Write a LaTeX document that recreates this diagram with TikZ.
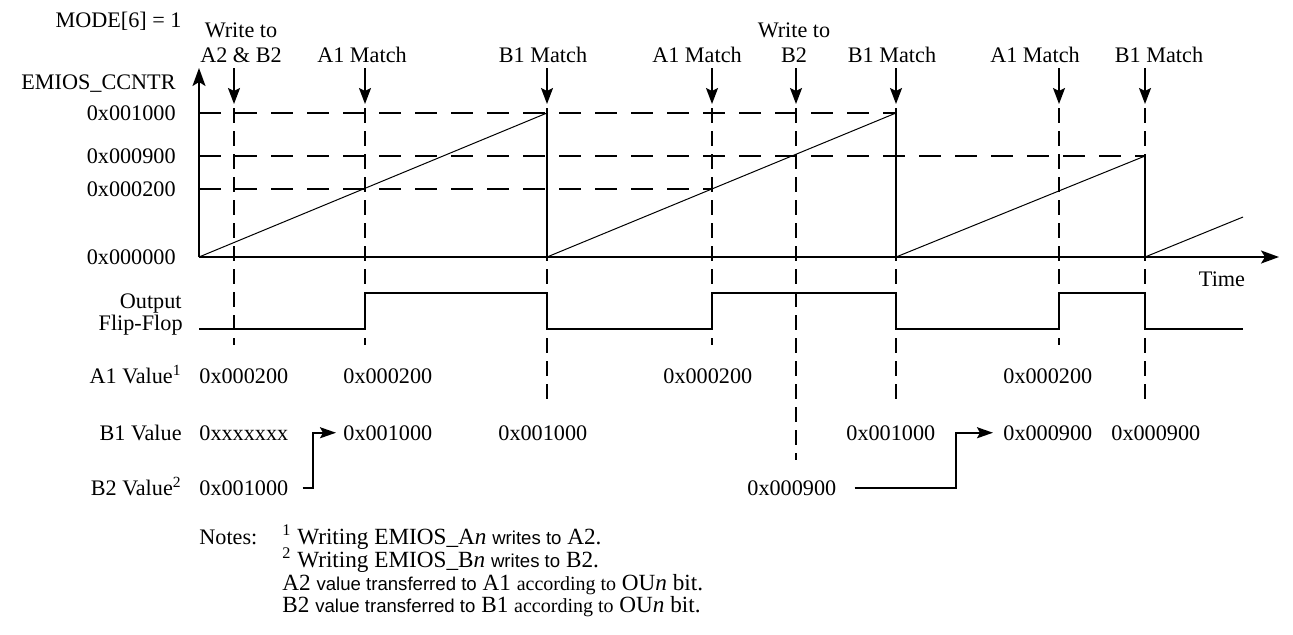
\documentclass[tikz,border=0pt]{standalone}
\usepackage{fontspec}
\setmainfont{Liberation Serif}
\setsansfont{Liberation Sans}
\usetikzlibrary{arrows.meta}
\newcommand{\hv}[1]{{\sffamily\fontsize{9.3}{11}\selectfont #1}}
\newcommand{\sm}[1]{{\fontsize{10}{11}\selectfont #1}}

\begin{document}
\begin{tikzpicture}[
  x=0.5pt, y=-0.5pt,
  font=\fontsize{11.1}{13}\selectfont,
  every node/.style={inner sep=0pt},
  axis/.style={line width=1pt, -{Stealth[length=9pt, width=6.5pt, inset=2pt]}},
  ramp/.style={line width=0.5pt},
  sig/.style={line width=1pt},
  lvl/.style={line width=0.9pt, dash pattern=on 11pt off 7pt},
  evt/.style={line width=0.9pt, dash pattern=on 7.5pt off 4pt},
  evarrow/.style={line width=0.9pt, -{Stealth[length=8pt, width=6pt, inset=1.5pt]}},
  xfer/.style={line width=1pt, -{Stealth[length=8pt, width=5.5pt, inset=1.5pt]}},
  lbl/.style={anchor=base east},
  val/.style={anchor=base west},
  note/.style={anchor=base west, font=\fontsize{11.6}{13}\selectfont,
               text height=8pt, text depth=2pt},
  evlbl/.style={anchor=base}
]
\useasboundingbox (0,0) rectangle (1293,634);

% axes
\coordinate (o) at (199,257);
\coordinate (ytop) at (199,68);
\coordinate (xend) at (1279,257);
\draw[axis] (o) -- (ytop);
\draw[axis] (o) -- (xend);
\node[evlbl] (time) at (1222,286) {Time};

\node[lbl] (mode) at (182,27) {MODE[6] = 1};
\node[lbl] (cntr) at (176,89) {EMIOS\_CCNTR};
\node[lbl] (v1000) at (176,120) {0x001000};
\node[lbl] (v900) at (176,163) {0x000900};
\node[lbl] (v200) at (176,196) {0x000200};
\node[lbl] (v0) at (176,264) {0x000000};

% event labels
\node[evlbl] (wa) at (241,37) {Write to};
\node[evlbl] (wb) at (241,62) {A2 \& B2};
\node[evlbl] (am1) at (362,62) {A1 Match};
\node[evlbl] (bm1) at (543,62) {B1 Match};
\node[evlbl] (am2) at (697,62) {A1 Match};
\node[evlbl] (wc) at (794,37) {Write to};
\node[evlbl] (wd) at (794,62) {B2};
\node[evlbl] (bm2) at (892,62) {B1 Match};
\node[evlbl] (am3) at (1035,62) {A1 Match};
\node[evlbl] (bm3) at (1159,62) {B1 Match};

% event arrows
\draw[evarrow] (234,68) -- (234,104);
\draw[evarrow] (365,68) -- (365,104);
\draw[evarrow] (547,68) -- (547,104);
\draw[evarrow] (712,68) -- (712,104);
\draw[evarrow] (796,68) -- (796,104);
\draw[evarrow] (896,68) -- (896,104);
\draw[evarrow] (1059,68) -- (1059,104);
\draw[evarrow] (1145,68) -- (1145,104);

% level lines
\draw[lvl] (199,113) -- (896,113);
\draw[lvl] (199,156) -- (1145,156);
\draw[lvl] (199,189) -- (712,189);

% event lines
\draw[evt] (234,108) -- (234,345);
\draw[evt] (365,108) -- (365,345);
\draw[evt] (547,108) -- (547,403);
\draw[evt] (712,108) -- (712,345);
\draw[evt] (796,108) -- (796,460);
\draw[evt] (896,108) -- (896,403);
\draw[evt] (1059,108) -- (1059,345);
\draw[evt] (1145,108) -- (1145,403);

% counter
\draw[ramp] (199,257) -- (547,113);
\draw[sig] (547,113) -- (547,257);
\draw[ramp] (547,257) -- (896,113);
\draw[sig] (896,113) -- (896,257);
\draw[ramp] (896,257) -- (1145,156);
\draw[sig] (1145,156) -- (1145,257);
\draw[ramp] (1145,257) -- (1243,217);

% output flip-flop
\node[lbl] (out) at (182,308) {Output};
\node[lbl] (ff) at (183,330) {Flip-Flop};
\draw[sig] (199,329) -- (365,329) -- (365,293) -- (547,293) -- (547,329)
  -- (712,329) -- (712,293) -- (896,293) -- (896,329) -- (1059,329)
  -- (1059,293) -- (1145,293) -- (1145,329) -- (1243,329);

% register values
\node[lbl] (a1) at (182,383) {A1 Value\textsuperscript{1}};
\node[lbl] (b1) at (182,440) {B1 Value};
\node[lbl] (b2) at (182,495) {B2 Value\textsuperscript{2}};

\node[val] (a1v1) at (199,383) {0x000200};
\node[val] (a1v2) at (343,383) {0x000200};
\node[val] (a1v3) at (663,383) {0x000200};
\node[val] (a1v4) at (1003,383) {0x000200};

\node[val] (b1v1) at (199,440) {0xxxxxxx};
\node[val] (b1v2) at (343,440) {0x001000};
\node[val] (b1v3) at (498,440) {0x001000};
\node[val] (b1v4) at (846,440) {0x001000};
\node[val] (b1v5) at (1003,440) {0x000900};
\node[val] (b1v6) at (1111,440) {0x000900};

\node[val] (b2v1) at (199,495) {0x001000};
\node[val] (b2v2) at (747,495) {0x000900};

\draw[xfer] ([xshift=7pt]b2v1.east) -- ++(5pt,0) |- ([xshift=-3.5pt]b1v2.west);
\draw[xfer] ([xshift=9pt]b2v2.east) -- ++(50.5pt,0) |- ([xshift=-5pt]b1v5.west);

% notes
\node[val] (notes) at (199,544) {Notes:};
\node[note] (n1) at (282,544) {\textsuperscript{1} Writing EMIOS\_A\textit{n} \hv{writes to} A2.};
\node[note] (n2) at (282,567) {\textsuperscript{2} Writing EMIOS\_B\textit{n} \hv{writes to} B2.};
\node[note] (n3) at (282,590) {A2 \hv{value transferred to} A1 \sm{according to} OU\textit{n} bit.};
\node[note] (n4) at (282,612) {B2 \hv{value transferred to} B1 \sm{according to} OU\textit{n} bit.};
\end{tikzpicture}
\end{document}
